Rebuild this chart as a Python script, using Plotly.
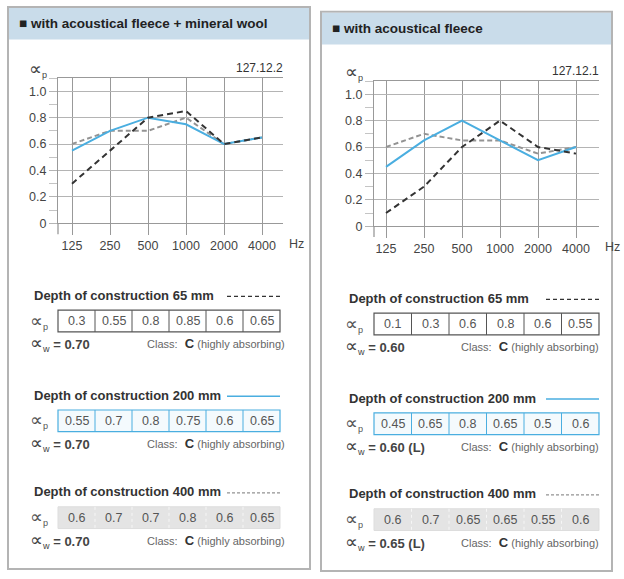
import plotly.graph_objects as go

# ---------------- data ----------------
freqs = ["125", "250", "500", "1000", "2000", "4000"]
depths = ["65 mm", "200 mm", "400 mm"]

left_title = "■ with acoustical fleece + mineral wool"
left_code = "127.12.2"
left_65 = [0.3, 0.55, 0.8, 0.85, 0.6, 0.65]
left_200 = [0.55, 0.7, 0.8, 0.75, 0.6, 0.65]
left_400 = [0.6, 0.7, 0.7, 0.8, 0.6, 0.65]
left_aw = ["0.70", "0.70", "0.70"]

right_title = "■ with acoustical fleece"
right_code = "127.12.1"
right_65 = [0.1, 0.3, 0.6, 0.8, 0.6, 0.55]
right_200 = [0.45, 0.65, 0.8, 0.65, 0.5, 0.6]
right_400 = [0.6, 0.7, 0.65, 0.65, 0.55, 0.6]
right_aw = ["0.60", "0.60 (L)", "0.65 (L)"]

ytick_vals = [0, 0.2, 0.4, 0.6, 0.8, 1.0]
ytick_text = ["0", "0.2", "0.4", "0.6", "0.8", "1.0"]

# ---------------- helpers ----------------
W, H = 624, 579
FONT = "Liberation Sans, Arial, sans-serif"
DARK = "#333333"
BLUE = "#4aaee0"
GRAYL = "#8c8c8c"
ALPHA = "<span style='font-size:18px'>∝</span>"


def px(x):
    return x / W


def py(y):
    return 1 - y / H


shapes = []
annos = []


def rect(x0, y0, x1, y1, line="#aaaaaa", width=1, fill=None, dash=None):
    d = dict(type="rect", xref="paper", yref="paper",
             x0=px(x0), x1=px(x1), y0=py(y1), y1=py(y0),
             line=dict(color=line, width=width))
    if dash:
        d["line"]["dash"] = dash
    if fill:
        d["fillcolor"] = fill
    if width == 0:
        d["line"] = dict(width=0)
    d["layer"] = "below"
    shapes.append(d)


def line(x0, y0, x1, y1, color, width=1, dash=None, layer="above"):
    d = dict(type="line", xref="paper", yref="paper",
             x0=px(x0), x1=px(x1), y0=py(y0), y1=py(y1),
             line=dict(color=color, width=width), layer=layer)
    if dash:
        d["line"]["dash"] = dash
    shapes.append(d)


def text(x, y, s, size=12, color=DARK, xanchor="left", bold=False):
    if bold:
        s = "<b>" + s + "</b>"
    annos.append(dict(xref="paper", yref="paper", x=px(x), y=py(y), text=s,
                      showarrow=False, xanchor=xanchor, yanchor="middle",
                      font=dict(family=FONT, size=size, color=color)))


fig = go.Figure()

styles = [
    dict(color=DARK, width=2, dash="6px,4px"),
    dict(color=BLUE, width=2),
    dict(color="#939393", width=2, dash="5px,3px"),
]

panels = [
    dict(x0=8, y0=7, x1=310, y1=576, title=left_title, code=left_code,
         series=[left_65, left_200, left_400], aw=left_aw,
         plot=(58, 79, 283, 226), x0val=72, titley=[299, 400, 498],
         lab_x=30, tbl=(58, 280), cls_x=287, suffix=""),
    dict(x0=321, y0=12, x1=612, y1=578, title=right_title, code=right_code,
         series=[right_65, right_200, right_400], aw=right_aw,
         plot=(374, 82, 599, 229), x0val=386, titley=[302, 403, 500],
         lab_x=345, tbl=(374, 599), cls_x=601, suffix="2"),
]

layout_axes = {}
for p in panels:
    # panel frame and header
    rect(p["x0"], p["y0"], p["x1"], p["y1"], line="#b4b4b4", width=2, fill="white")
    rect(p["x0"] + 1, p["y0"] + 1, p["x1"] - 1, p["y0"] + 33, width=0, fill="#c9dcea")
    text(p["x0"] + 9, p["y0"] + 17, p["title"], size=13.5, color="#222222", bold=True)

    X0, Y0, X1, Y1 = p["plot"]
    sfx = p["suffix"]
    xa = "x" + sfx
    ya = "y" + sfx
    xr = [(X0 - p["x0val"]) / 38.0, (X1 - p["x0val"]) / 38.0]

    for vals, st, nm in reversed(list(zip(p["series"], styles, depths))):
        fig.add_trace(go.Scatter(x=list(range(len(freqs))), y=vals, mode="lines",
                                 line=st, name=nm, showlegend=False,
                                 xaxis=xa, yaxis=ya))

    layout_axes["xaxis" + sfx] = dict(
        domain=[px(X0), px(X1)], range=xr, anchor=ya,
        tickvals=list(range(len(freqs))), ticktext=freqs,
        showgrid=True, gridcolor="#999999", gridwidth=1.3,
        ticks="outside", ticklen=11, tickcolor="#999999", tickwidth=1.3,
        showline=True, linecolor="#999999", linewidth=1.3, mirror=True,
        zeroline=False, fixedrange=True,
        tickfont=dict(family=FONT, size=12.5, color="#444444"))
    layout_axes["yaxis" + sfx] = dict(
        domain=[py(Y1), py(Y0)], range=[0, 1.1], anchor=xa,
        tickvals=ytick_vals, ticktext=ytick_text,
        showgrid=True, gridcolor="#b4b4b4", gridwidth=1,
        ticks="outside", ticklen=8, tickcolor="#b4b4b4",
        minor=dict(dtick=0.1, tick0=0, ticks="outside", ticklen=8, tickcolor="#c4c4c4", showgrid=False),
        showline=True, linecolor="#999999", linewidth=1.3,
        zeroline=False, fixedrange=True,
        tickfont=dict(family=FONT, size=12.5, color="#444444"))

    # axis extension below zero
    line(X0, Y1, X0, Y1 + 11, "#999999", 1.3)
    # axis captions
    text(X0 - 31, Y0 - 9, ALPHA + "<sub>p</sub>", size=13, color="#444444")
    text(X1 + 2, Y0 - 10, p["code"], size=12, color="#333333", xanchor="right")
    text(X1 + 4, Y1 + 21, "Hz", size=12.5, color="#444444")

    # tables
    T0, T1 = p["tbl"]
    cw = (T1 - T0) / 6.0
    for i, (vals, ty, aw) in enumerate(zip(p["series"], p["titley"], p["aw"])):
        text(p["lab_x"] + 2, ty, "Depth of construction " + depths[i], size=13, color=DARK, bold=True)
        # legend sample
        st = styles[i]
        line(T1 - 53, ty + 1, T1, ty + 1, st["color"], 1.3 if i != 1 else 1.5,
             dash=("4px,3px" if i == 0 else ("3px,2px" if i == 2 else None)))
        by0, by1 = ty + 15, ty + 37
        if i == 0:
            rect(T0, by0, T1, by1, line="#555555", width=1.2, fill="white")
            dcol, ddash = "#555555", None
        elif i == 1:
            rect(T0, by0, T1, by1, line=BLUE, width=1.2, fill="#f4fafd")
            dcol, ddash = BLUE, None
        else:
            rect(T0, by0, T1, by1, line="#dddddd", width=1, fill="#e4e4e4")
            dcol, ddash = "#f6f6f6", "dot"
        for k in range(1, 6):
            line(T0 + k * cw, by0, T0 + k * cw, by1, dcol, 1, dash=ddash, layer="below")
        cy = (by0 + by1) / 2
        text(p["lab_x"] - 2, cy, ALPHA + "<sub>p</sub>", size=13, color="#555555")
        for k, v in enumerate(vals):
            text(T0 + (k + 0.5) * cw, cy, f"{v:g}", size=12.5, color="#555555", xanchor="center")
        wy = by1 + 12
        text(p["lab_x"] - 2, wy, ALPHA + "<sub>w</sub><b> = " + aw + "</b>", size=13, color="#444444")
        text(p["cls_x"], wy,
             "<span style='font-size:11px;color:#666'>Class:</span>  <b>C</b>"
             "<span style='font-size:11px;color:#666'> (highly absorbing)</span>",
             size=13, color=DARK, xanchor="right")

fig.update_layout(
    width=W, height=H,
    margin=dict(l=0, r=0, t=0, b=0),
    paper_bgcolor="white", plot_bgcolor="rgba(0,0,0,0)",
    shapes=shapes, annotations=annos, showlegend=False,
    **layout_axes)

fig.write_html("out.html", config={"displayModeBar": False},
               post_script="document.body.style.margin='0px';document.body.style.overflow='hidden';")
